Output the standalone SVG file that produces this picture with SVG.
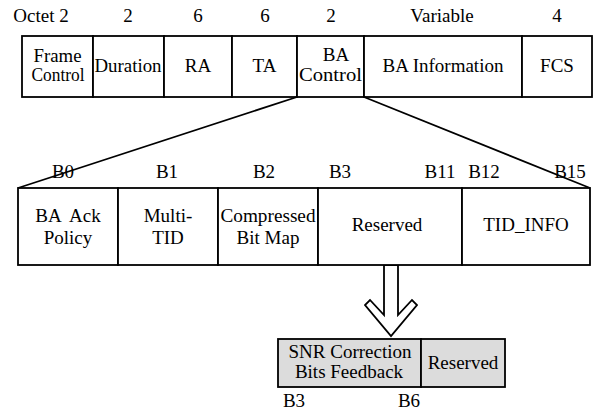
<svg xmlns="http://www.w3.org/2000/svg" width="594" height="412" viewBox="0 0 594 412" font-family="Liberation Serif, Times New Roman, serif">
  <style>
    text { font-size: 19px; fill: #000; text-anchor: middle; }
    .box { fill: #fff; stroke: #000; stroke-width: 1.8; }
    .sub { fill: #dcdcdc; stroke: #000; stroke-width: 1.8; }
    .ln { stroke: #000; stroke-width: 1.8; fill: none; }
  </style>
  <rect width="594" height="412" fill="#fff"/>

  <!-- octet counts above the frame -->
  <g id="octets">
    <text x="41" y="22">Octet 2</text>
    <text x="128" y="22">2</text>
    <text x="198" y="22">6</text>
    <text x="265" y="22">6</text>
    <text x="331" y="22">2</text>
    <text x="442" y="22">Variable</text>
    <text x="557" y="22">4</text>
  </g>

  <!-- BlockAck frame fields -->
  <g id="frame-control">
    <rect class="box" x="22" y="36" width="71" height="61"/>
    <text x="57.5" y="62" textLength="48" lengthAdjust="spacingAndGlyphs">Frame</text>
    <text x="58" y="81" textLength="53" lengthAdjust="spacingAndGlyphs">Control</text>
  </g>
  <g id="duration">
    <rect class="box" x="93" y="36" width="71" height="61"/>
    <text x="128" y="72" textLength="67" lengthAdjust="spacingAndGlyphs">Duration</text>
  </g>
  <g id="ra">
    <rect class="box" x="164" y="36" width="68" height="61"/>
    <text x="198" y="72">RA</text>
  </g>
  <g id="ta">
    <rect class="box" x="232" y="36" width="65" height="61"/>
    <text x="264.5" y="72">TA</text>
  </g>
  <g id="ba-control">
    <rect class="box" x="297" y="36" width="67" height="61"/>
    <text x="336" y="61">BA</text>
    <text x="330.5" y="81" textLength="63" lengthAdjust="spacingAndGlyphs">Control</text>
  </g>
  <g id="ba-information">
    <rect class="box" x="364" y="36" width="158" height="61"/>
    <text x="443" y="72">BA Information</text>
  </g>
  <g id="fcs">
    <rect class="box" x="522" y="36" width="70" height="61"/>
    <text x="557" y="72">FCS</text>
  </g>

  <!-- expansion of BA Control and the sub-field arrow -->
  <g id="connectors">
    <line class="ln" x1="297" y1="97" x2="18" y2="188"/>
    <line class="ln" x1="364" y1="97" x2="590" y2="188"/>
    <polygon class="ln" fill="#fff" stroke-linejoin="miter" points="384,265 398,265 398,315 412,300 417,305 391,336 365,305 370,300 384,315"/>
  </g>

  <!-- bit positions of BA Control -->
  <g id="bit-labels">
    <text x="63" y="178">B0</text>
    <text x="167" y="178">B1</text>
    <text x="264" y="178">B2</text>
    <text x="340" y="178">B3</text>
    <text x="440" y="178">B11</text>
    <text x="484" y="178">B12</text>
    <text x="570" y="178">B15</text>
  </g>

  <!-- BA Control sub-fields -->
  <g id="ba-ack-policy">
    <rect class="box" x="18" y="188" width="100" height="77"/>
    <text x="68" y="222" xml:space="preserve">BA  Ack</text>
    <text x="68" y="244">Policy</text>
  </g>
  <g id="multi-tid">
    <rect class="box" x="118" y="188" width="100" height="77"/>
    <text x="168" y="222">Multi-</text>
    <text x="168" y="244">TID</text>
  </g>
  <g id="compressed-bitmap">
    <rect class="box" x="218" y="188" width="100" height="77"/>
    <text x="268" y="222" textLength="95" lengthAdjust="spacingAndGlyphs">Compressed</text>
    <text x="268" y="244">Bit Map</text>
  </g>
  <g id="reserved">
    <rect class="box" x="318" y="188" width="144" height="77"/>
    <text x="387" y="231">Reserved</text>
  </g>
  <g id="tid-info">
    <rect class="box" x="462" y="188" width="128" height="77"/>
    <text x="526" y="231">TID_INFO</text>
  </g>

  <!-- Reserved bits B3..B11 reused -->
  <g id="snr-correction">
    <rect class="sub" x="278" y="339" width="143" height="48"/>
    <text x="350" y="358">SNR Correction</text>
    <text x="349" y="378">Bits Feedback</text>
  </g>
  <g id="sub-reserved">
    <rect class="sub" x="421" y="339" width="84" height="48"/>
    <text x="463" y="369">Reserved</text>
  </g>
  <g id="sub-bit-labels">
    <text x="294" y="407">B3</text>
    <text x="409" y="407">B6</text>
  </g>
</svg>
